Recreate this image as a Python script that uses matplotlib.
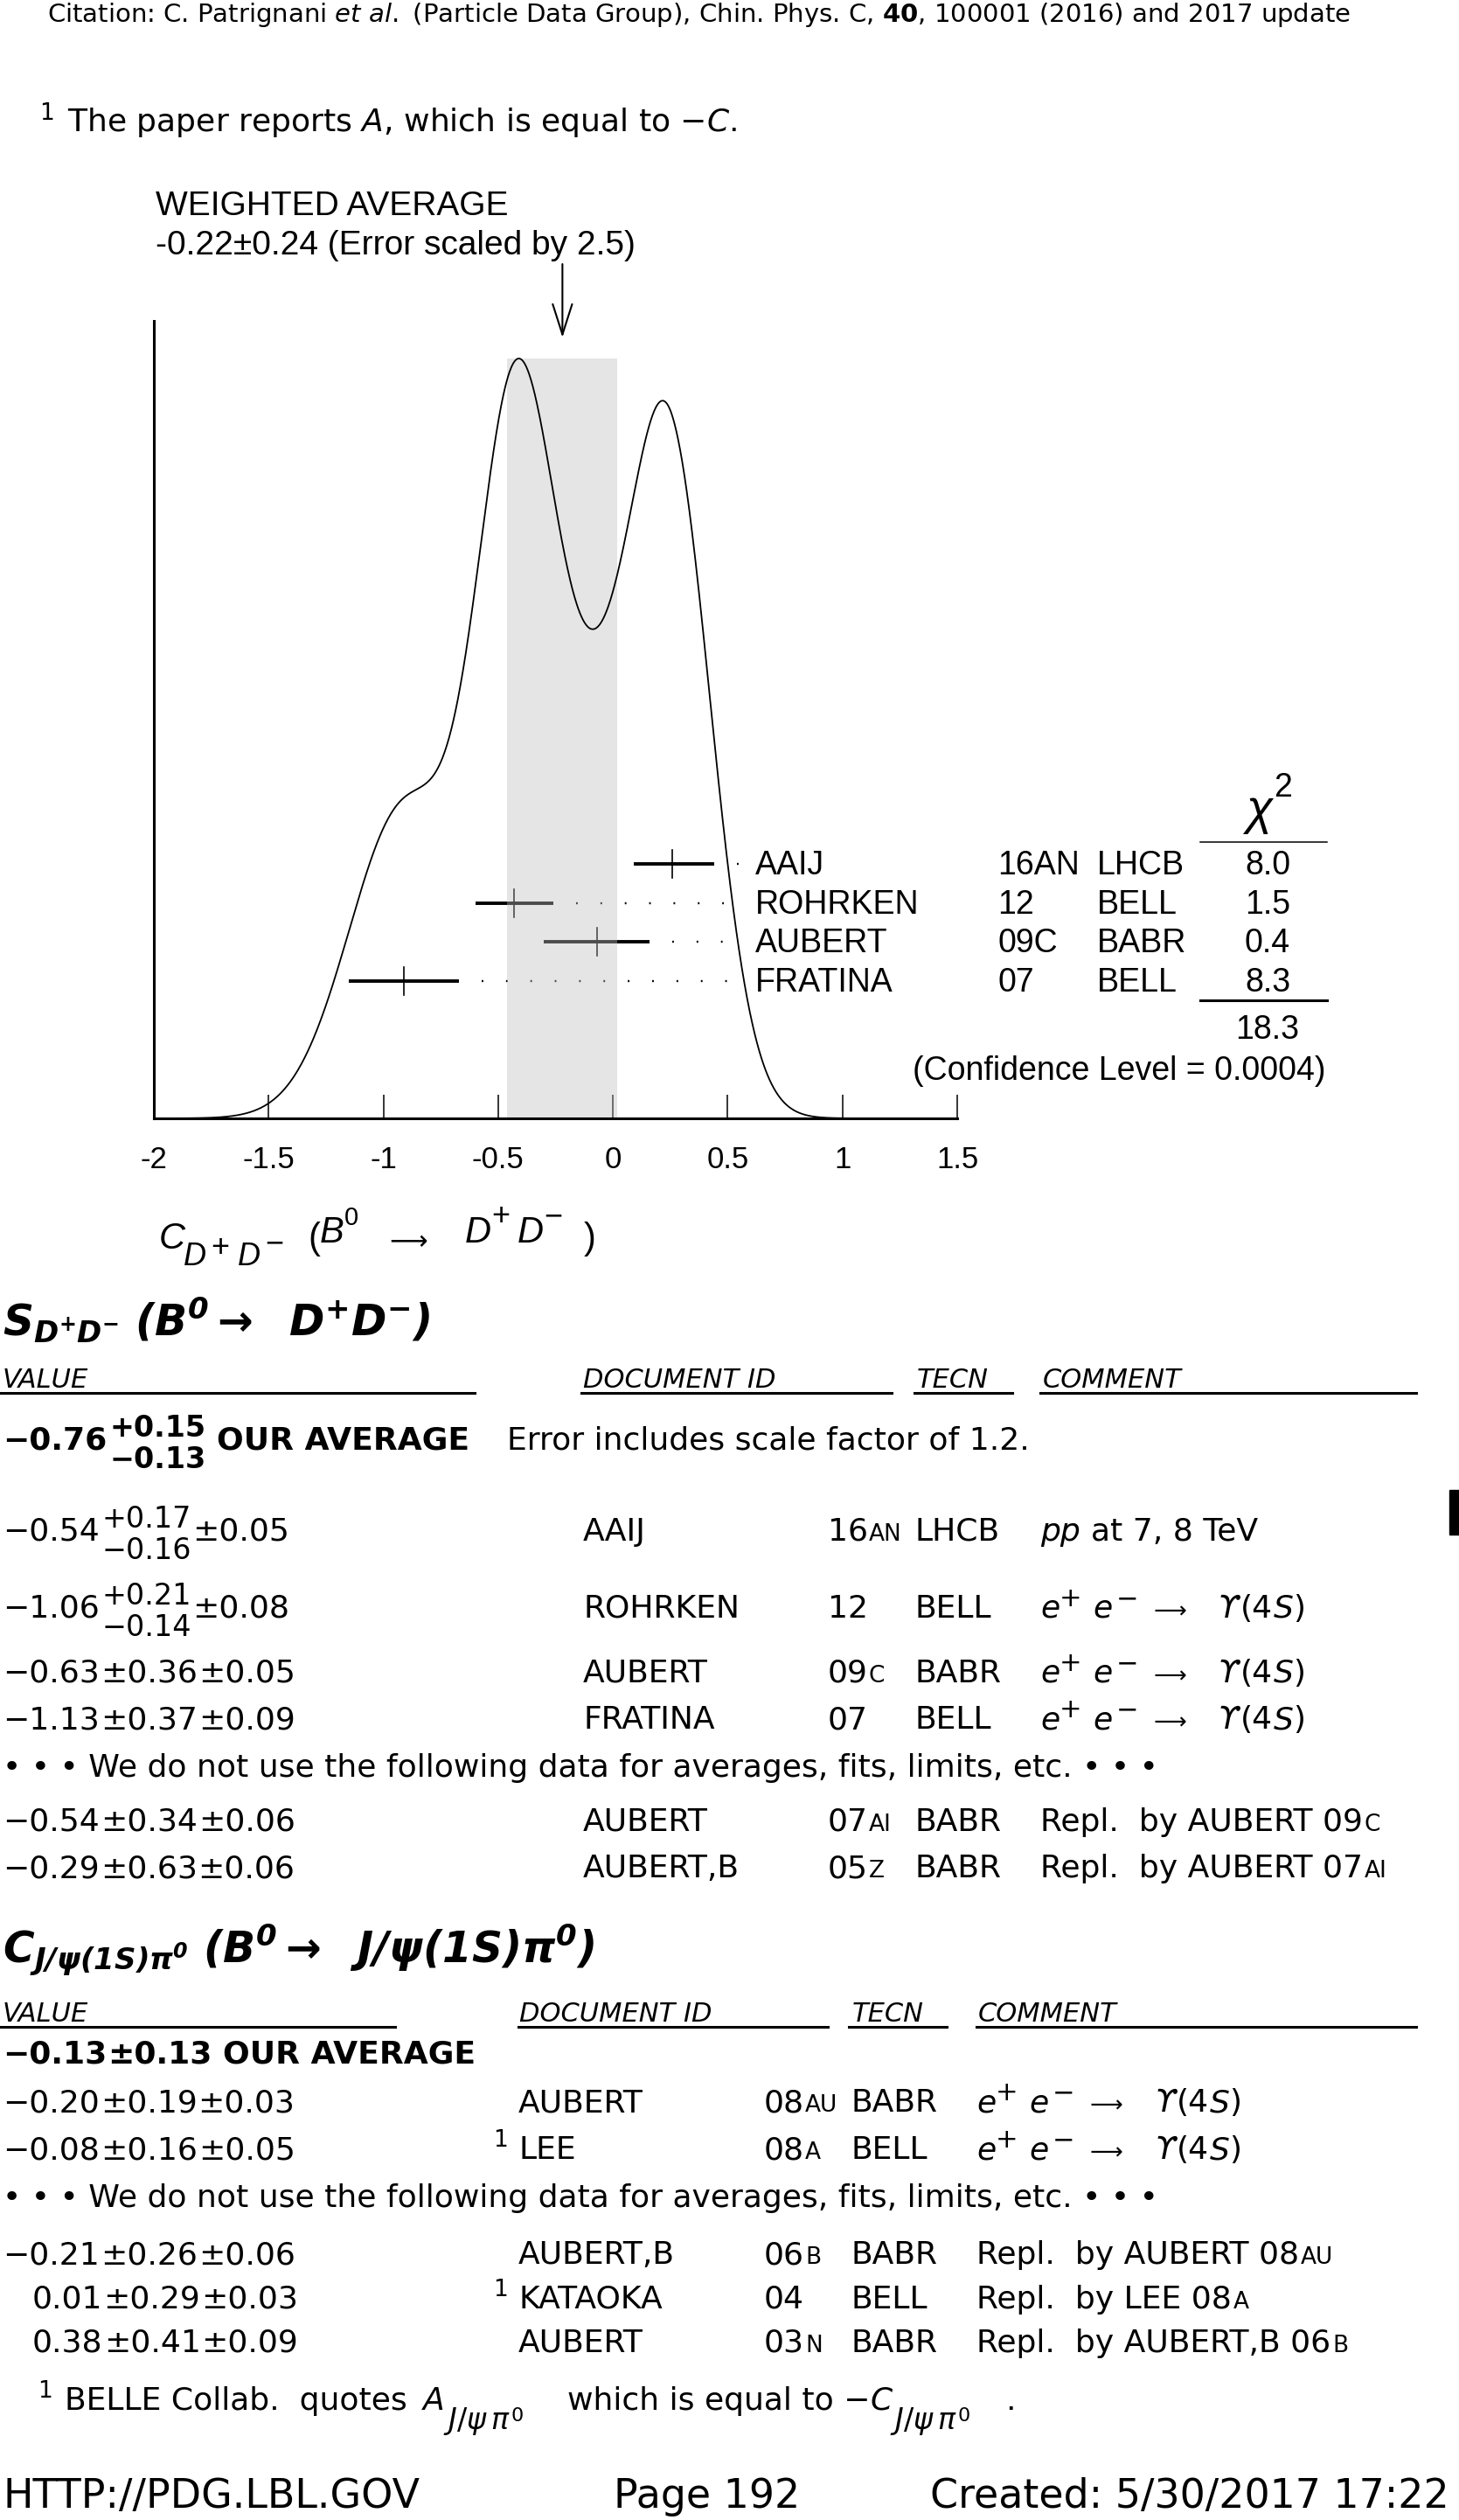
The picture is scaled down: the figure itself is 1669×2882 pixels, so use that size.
import numpy as np
import matplotlib.pyplot as plt
from matplotlib.lines import Line2D
from matplotlib.patches import Rectangle
from matplotlib.mathtext import MathTextParser

# Page size in pixels (figure is drawn at dpi 100)
W, H = 1669, 2882

# ---- ideogram data: C_{D+D-} (B0 -> D+D-) ----
ideo_names = ["AAIJ", "ROHRKEN", "AUBERT", "FRATINA"]
ideo_years = ["16AN", "12", "09C", "07"]
ideo_tecn = ["LHCB", "BELL", "BABR", "BELL"]
ideo_val = [0.26, -0.43, -0.07, -0.91]
ideo_err_lo = [0.17, 0.17, 0.23, 0.24]
ideo_err_hi = [0.18, 0.17, 0.23, 0.24]
ideo_chi2 = [8.0, 1.5, 0.4, 8.3]
chi2_total = 18.3
conf_level = "0.0004"
wavg, wavg_err, err_scale = -0.22, 0.24, 2.5
xticks = [-2, -1.5, -1, -0.5, 0, 0.5, 1, 1.5]
xtick_labels = ["-2", "-1.5", "-1", "-0.5", "0", "0.5", "1", "1.5"]

# ---- S_{D+D-} listing ----
s_avg, s_avg_plus, s_avg_minus, s_avg_scale = -0.76, 0.15, 0.13, 1.2
s_val = [-0.54, -1.06, -0.63, -1.13, -0.54, -0.29]
s_stat_plus = [0.17, 0.21, 0.36, 0.37, 0.34, 0.63]
s_stat_minus = [0.16, 0.14, 0.36, 0.37, 0.34, 0.63]
s_syst = [0.05, 0.08, 0.05, 0.09, 0.06, 0.06]
s_doc = ["AAIJ", "ROHRKEN", "AUBERT", "FRATINA", "AUBERT", "AUBERT,B"]
s_year = ["16", "12", "09", "07", "07", "05"]
s_year_sfx = ["AN", "", "C", "", "AI", "Z"]
s_tecn = ["LHCB", "BELL", "BABR", "BELL", "BABR", "BABR"]
s_comment = [("pp", ""), ("ee", ""), ("ee", ""), ("ee", ""),
             ("Repl.  by AUBERT 09", "C"),
             ("Repl.  by AUBERT 07", "AI")]

# ---- C_{J/psi(1S) pi0} listing ----
c_avg, c_avg_err = -0.13, 0.13
c_val = [-0.20, -0.08, -0.21, 0.01, 0.38]
c_stat = [0.19, 0.16, 0.26, 0.29, 0.41]
c_syst = [0.03, 0.05, 0.06, 0.03, 0.09]
c_doc = ["AUBERT", "LEE", "AUBERT,B", "KATAOKA", "AUBERT"]
c_note = ["", "1", "", "1", ""]
c_year = ["08", "08", "06", "04", "03"]
c_year_sfx = ["AU", "A", "B", "", "N"]
c_tecn = ["BABR", "BELL", "BABR", "BELL", "BABR"]
c_comment = [("ee", ""), ("ee", ""),
             ("Repl.  by AUBERT 08", "AU"),
             ("Repl.  by LEE 08", "A"),
             ("Repl.  by AUBERT,B 06", "B")]

plt.rcParams.update({
    'font.family': 'DejaVu Sans',
    'mathtext.fontset': 'dejavusans',
    'mathtext.rm': 'Liberation Sans',
    'mathtext.it': 'Liberation Sans:italic',
    'mathtext.bf': 'Liberation Sans:bold',
    'mathtext.sf': 'Liberation Sans',
})

# bold italic math command (fallback for older matplotlib)
try:
    MathTextParser('path').parse(r'$\mathbfit{S}$')
    BFIT = r'\mathbfit'
except Exception:
    BFIT = r'\mathbf'

fig = plt.figure(figsize=(W / 100, H / 100), dpi=100)
renderer = fig.canvas.get_renderer()


def fx(x):
    return x / W


def fy(y):
    return 1 - y / H


def put(x, y, s, **kw):
    kw.setdefault('va', 'baseline')
    return fig.text(fx(x), fy(y), s, **kw)


def right_edge(t):
    return t.get_window_extent(renderer=renderer).x1


def run(x, y, pieces):
    for s, kw in pieces:
        kw = dict(kw)
        dy = kw.pop('dy', 0)
        x += kw.pop('gap', 0)
        if s:
            x = right_edge(put(x, y - dy, s, **kw))
    return x


def hline(x0, x1, y, lw):
    fig.add_artist(Line2D([fx(x0), fx(x1)], [fy(y), fy(y)], color='k',
                          lw=lw, transform=fig.transFigure))


def num(v):
    return ("\u2212" if v < 0 else "") + f"{abs(v):.2f}"


# ---------- fonts ----------
LIB = ['Liberation Sans', 'DejaVu Sans']
IDEO = dict(family=LIB, math_fontfamily='custom', size=27)
IDEO_IT = dict(IDEO, style='italic')
body = dict(family='DejaVu Sans', math_fontfamily='dejavusans', size=26)
bodyb = dict(body, weight='bold')
body_it = dict(body, style='italic')
small = dict(body, size=19)
supf = dict(body, size=24)
supb = dict(supf, weight='bold')
head = dict(body, size=22, style='italic')
LONGARROW = r"$\longrightarrow$"

# ---------- page header ----------
put(800, 25, r"Citation: C. Patrignani $\mathit{et\ al.}$ (Particle Data Group), "
    r"Chin. Phys. C, $\mathbf{40}$, 100001 (2016) and 2017 update",
    ha='center', family='DejaVu Sans', math_fontfamily='dejavusans', size=21)
put(45, 137, "1", **small)
put(77, 150, "The paper reports $A$, which is equal to $-C$.", **body)

# ---------- ideogram ----------
AX_L, AX_R, AX_T, AX_B = 176, 1095, 367, 1279
PEAK_PX = AX_B - 410
ax = fig.add_axes([fx(AX_L), fy(AX_B), (AX_R - AX_L) / W, (AX_B - AX_T) / H])
ax.set_xlim(-2, 1.5)
ax.set_ylim(0, AX_B - AX_T)

xs = np.linspace(-2, 1.5, 1500)
curve = np.zeros_like(xs)
for v, lo, hi in zip(ideo_val, ideo_err_lo, ideo_err_hi):
    sig = np.where(xs < v, lo, hi)
    curve += np.exp(-0.5 * ((xs - v) / sig) ** 2) / (0.5 * (lo + hi)) ** 2
curve *= PEAK_PX / curve.max()

row_px = [988 + 44.7 * i for i in range(len(ideo_val))]
for i, (v, lo, hi) in enumerate(zip(ideo_val, ideo_err_lo, ideo_err_hi)):
    yd = AX_B - row_px[i]
    ax.plot([v - lo, v + hi], [yd, yd], color='k', lw=2.8, zorder=1,
            solid_capstyle='butt')
    ax.plot([v, v], [yd - 16, yd + 16], color='k', lw=1.2, zorder=1)
    if v + hi + 0.1 < 0.55:
        ax.plot([v + hi + 0.1, 0.55], [yd, yd], color='k', lw=1.7,
                linestyle=(0, (0.8, 11)), zorder=1)

ax.fill_between([wavg - wavg_err, wavg + wavg_err], 0, PEAK_PX,
                color='0.75', alpha=0.4, lw=0, zorder=2)
ax.plot(xs, curve, color='k', lw=1.3, zorder=3)

ax.annotate('', xy=(wavg, AX_B - 386), xytext=(wavg, AX_B - 302),
            arrowprops=dict(arrowstyle='->,head_length=1.25,head_width=0.4',
                            lw=1.5, color='k', mutation_scale=20,
                            shrinkA=0, shrinkB=0),
            annotation_clip=False)

for side in ['top', 'right']:
    ax.spines[side].set_visible(False)
for side in ['left', 'bottom']:
    ax.spines[side].set_linewidth(2.2)
ax.set_yticks([])
ax.set_xticks(xticks)
ax.set_xticklabels(xtick_labels, family=LIB, size=25)
ax.tick_params(axis='x', direction='in', length=19.5, width=1.1, pad=22)
ax.patch.set_alpha(0)

put(178, 246, "WEIGHTED AVERAGE", **dict(IDEO, size=28))
put(178, 291, f"{wavg:.2f}\u00b1{wavg_err:.2f} (Error scaled by {err_scale})",
    **dict(IDEO, size=28))

for i in range(len(ideo_names)):
    b = row_px[i] + 12
    put(864, b, ideo_names[i], **IDEO)
    put(1141, b, ideo_years[i], **IDEO)
    put(1255, b, ideo_tecn[i], **IDEO)
    put(1450, b, f"{ideo_chi2[i]:.1f}", ha='center', **IDEO)

put(1440, 942, r"$\chi$", ha='center', **dict(IDEO, size=40))
put(1457, 911, "2", **dict(IDEO, size=27))
hline(1373, 1518, 963, 1.1)
hline(1373, 1518, 1144, 2.2)
put(1450, 1188, f"{chi2_total:.1f}", ha='center', **IDEO)
put(1516, 1235, f"(Confidence Level = {conf_level})", ha='right', **IDEO)

# x-axis label  C_{D+D-} (B0 -> D+D-), pieces placed like the original typesetting
big_it = dict(IDEO_IT, size=30)
big_rm = dict(IDEO, size=30)
sub_it = dict(IDEO_IT, size=26)
sub_rm = dict(IDEO, size=26)
for xp, yb, s, kw in [(182, 1428, "C", big_it),
                      (210, 1447, "D", sub_it), (241, 1437, "+", sub_rm),
                      (272, 1447, "D", sub_it), (303, 1432, "\u2212", sub_rm),
                      (352, 1428, "(", big_rm), (366, 1421, "B", big_it),
                      (394, 1401, "0", dict(IDEO, size=21)),
                      (440, 1427, LONGARROW, dict(body, size=22)),
                      (532, 1421, "D", big_it), (562, 1401, "+", sub_rm),
                      (592, 1421, "D", big_it), (622, 1401, "\u2212", sub_rm),
                      (668, 1428, ")", big_rm)]:
    put(xp, yb, s, **kw)


# ---------- listings ----------
def value_cell(y, v, sp, sm, sy, kw, kws):
    x = 3 if v < 0 else 37
    x = right_edge(put(x, y, num(v), **kw))
    if sm is None or abs(sp - sm) < 1e-9:
        x = right_edge(put(x + 1, y, "\u00b1" + f"{sp:.2f}", **kw))
    else:
        t1 = put(x + 3, y - 15, "+" + f"{sp:.2f}", **kws)
        t2 = put(x + 3, y + 21, "\u2212" + f"{sm:.2f}", **kws)
        x = max(right_edge(t1), right_edge(t2))
    if sy is not None:
        x = right_edge(put(x + 1, y, "\u00b1" + f"{sy:.2f}", **kw))
    return x


def header(y, cols, segs, yline):
    for x, s in cols:
        put(x, y, s, **head)
    for a, b in segs:
        hline(a, b, yline, 2.2)


def ee_upsilon(x, y):
    sup = dict(body, size=22)
    put(x, y, "e", **body_it)
    put(x + 22, y - 13, "+", **sup)
    put(x + 60, y, "e", **body_it)
    put(x + 87, y - 13, "\u2212", **sup)
    put(x + 124, y - 1, LONGARROW, **dict(body, size=19))
    run(x + 203, y, [("\u03d2", body_it), ("(4", dict(body, gap=1)),
                     ("S", body_it), (")", body)])


def comment_cell(x, y, comment):
    if comment[0] == "ee":
        ee_upsilon(x, y)
    elif comment[0] == "pp":
        run(x, y, [("pp", body_it), ("at 7, 8 TeV", dict(body, gap=12))])
    else:
        run(x, y, [(comment[0], body), (comment[1], dict(small, gap=2))])


def row(y, cols, doc, note, year, sfx, tecn, comment):
    if note:
        put(cols[0] - 29, y - 14, note, **small)
    put(cols[0], y, doc, **body)
    run(cols[1], y, [(year, body), (sfx, dict(small, gap=1))])
    put(cols[2], y, tecn, **body)
    comment_cell(cols[3], y, comment)


NOUSE = "\u2022 \u2022 \u2022 We do not use the following data for averages, fits, limits, etc. \u2022 \u2022 \u2022"

# S section
put(3, 1528, r"$" + BFIT + r"{S_{D^{+}D^{-}}\ (B^{0}\rightarrow\ \ D^{+}D^{-})}$", **dict(body, size=35))
header(1587, [(3, "VALUE"), (667, "DOCUMENT ID"), (1049, "TECN"), (1193, "COMMENT")],
       [(0, 543), (665, 1020), (1046, 1158), (1190, 1620)], 1593)
xe = value_cell(1658, s_avg, s_avg_plus, s_avg_minus, None, bodyb, supb)
put(xe + 12, 1658, "OUR AVERAGE", **bodyb)
put(580, 1658, f"Error includes scale factor of {s_avg_scale}.", **body)
fig.add_artist(Rectangle((fx(1658), fy(1755)), 11 / W, 51 / H, color='k',
                         transform=fig.transFigure))
s_rows = [1762, 1850, 1924, 1977, 2094, 2147]
s_cols = [667, 947, 1046, 1190]
for i in range(len(s_val)):
    value_cell(s_rows[i], s_val[i], s_stat_plus[i], s_stat_minus[i], s_syst[i], body, supf)
    row(s_rows[i], s_cols, s_doc[i], "", s_year[i], s_year_sfx[i], s_tecn[i], s_comment[i])
put(3, 2032, NOUSE, **body)

# C section
put(3, 2245, r"$" + BFIT + r"{C_{J/\psi(1S)\pi^{0}}\ (B^{0}\rightarrow\ \ J/\psi(1S)\pi^{0})}$",
    **dict(body, size=35))
header(2312, [(3, "VALUE"), (594, "DOCUMENT ID"), (975, "TECN"), (1119, "COMMENT")],
       [(0, 452), (593, 947), (971, 1083), (1117, 1620)], 2318)
xe = value_cell(2359, c_avg, c_avg_err, None, None, bodyb, supb)
put(xe + 12, 2359, "OUR AVERAGE", **bodyb)
c_rows = [2415, 2469, 2589, 2640, 2690]
c_cols = [593, 874, 973, 1117]
for i in range(len(c_val)):
    value_cell(c_rows[i], c_val[i], c_stat[i], None, c_syst[i], body, supf)
    row(c_rows[i], c_cols, c_doc[i], c_note[i], c_year[i], c_year_sfx[i], c_tecn[i], c_comment[i])
put(3, 2524, NOUSE, **body)

# footnote with large subscripts
fy0 = 2756
put(43, fy0 - 14, "1", **small)
put(74, fy0, "BELLE Collab.  quotes", **body)
sub_j = dict(body, size=24)
for xa, letter in [(484, "A"), (995, "C")]:
    xe = right_edge(put(xa, fy0, letter, **body_it))
    xe = right_edge(put(xe - 2, fy0 + 22, r"$J/\psi\,\pi$", **sub_j))
    put(xe + 1, fy0 + 13, "0", **dict(body, size=16))
put(649, fy0, "which is equal to \u2212", **body)
put(1150, fy0, ".", **body)

# ---------- footer ----------
foot = dict(body, size=33)
put(3, 2868, "HTTP://PDG.LBL.GOV", **foot)
put(702, 2868, "Page 192", **foot)
put(1064, 2868, "Created: 5/30/2017 17:22", **foot)

fig.savefig('out.png', dpi=100)
